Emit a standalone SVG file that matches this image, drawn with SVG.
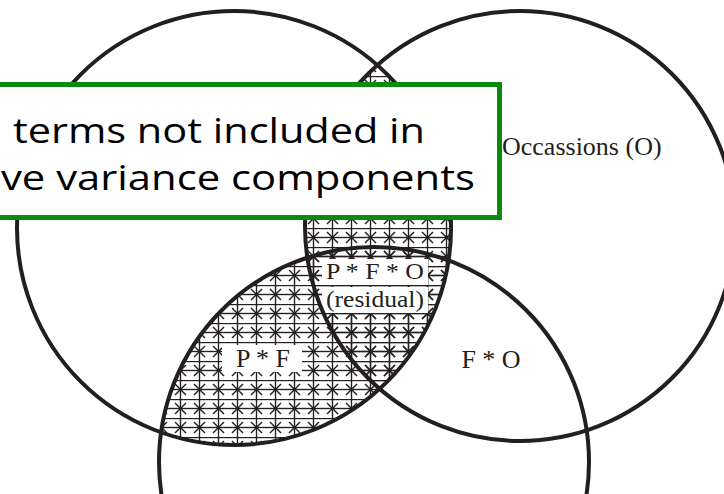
<svg xmlns="http://www.w3.org/2000/svg" width="724" height="494" viewBox="0 0 724 494">
<style>
.ring{fill:none;stroke:#231f20;stroke-width:4}
.lbl{font-family:"Liberation Serif","Times New Roman",serif;font-size:26px;fill:#231f20}
.sm{font-size:24px}
.box{font-family:"Open Sans","Noto Sans",sans-serif;font-size:35px;fill:#000}
.mask{fill:#fff}
</style>
<defs>
<pattern id="hatch" patternUnits="userSpaceOnUse" width="19" height="19" x="0" y="0">
<g stroke="#231f20" stroke-width="1.4" fill="none">
<line x1="9.5" y1="0" x2="9.5" y2="19"/>
<line x1="0" y1="9.5" x2="19" y2="9.5"/>
<line x1="0" y1="0.5" x2="19" y2="0.5"/>
<line x1="4" y1="4" x2="15" y2="15"/>
<line x1="15" y1="4" x2="4" y2="15"/>
</g>
</pattern>
<clipPath id="clipP"><circle cx="234" cy="228" r="217"/></clipPath>
</defs>
<g id="shading" clip-path="url(#clipP)">
<circle cx="520" cy="226" r="215" fill="url(#hatch)"/>
<circle cx="374" cy="462" r="215" fill="url(#hatch)"/>
</g>
<g id="label-masks">
<rect class="mask" x="222" y="345" width="80" height="27"/>
<rect class="mask" x="322" y="259" width="106" height="26"/>
<rect class="mask" x="322" y="287" width="106" height="26"/>
</g>
<g id="connectors">
<circle id="circle-P" class="ring" cx="234" cy="228" r="217"/>
<circle id="circle-O" class="ring" cx="520" cy="226" r="215"/>
<circle id="circle-F" class="ring" cx="374" cy="462" r="215"/>
</g>
<g id="node-occasions"><text class="lbl" x="502" y="155">Occassions (O)</text></g>
<g id="node-pfo"><text class="lbl sm" x="326" y="279" textLength="98" lengthAdjust="spacingAndGlyphs">P * F * O</text>
<text class="lbl sm" x="326" y="307" textLength="98" lengthAdjust="spacingAndGlyphs">(residual)</text></g>
<g id="node-pf"><text class="lbl" x="263" y="367" text-anchor="middle">P * F</text></g>
<g id="node-fo"><text class="lbl" x="491" y="368" text-anchor="middle">F * O</text></g>
<g id="node-callout">
<rect x="-10" y="84.5" width="509.5" height="133" fill="#fff" stroke="#0b8a0b" stroke-width="5"/>
<text class="box" x="13" y="143" textLength="412" lengthAdjust="spacingAndGlyphs">terms not included in</text>
<text class="box" x="1" y="190" textLength="474" lengthAdjust="spacingAndGlyphs">ve variance components</text>
</g>
</svg>
